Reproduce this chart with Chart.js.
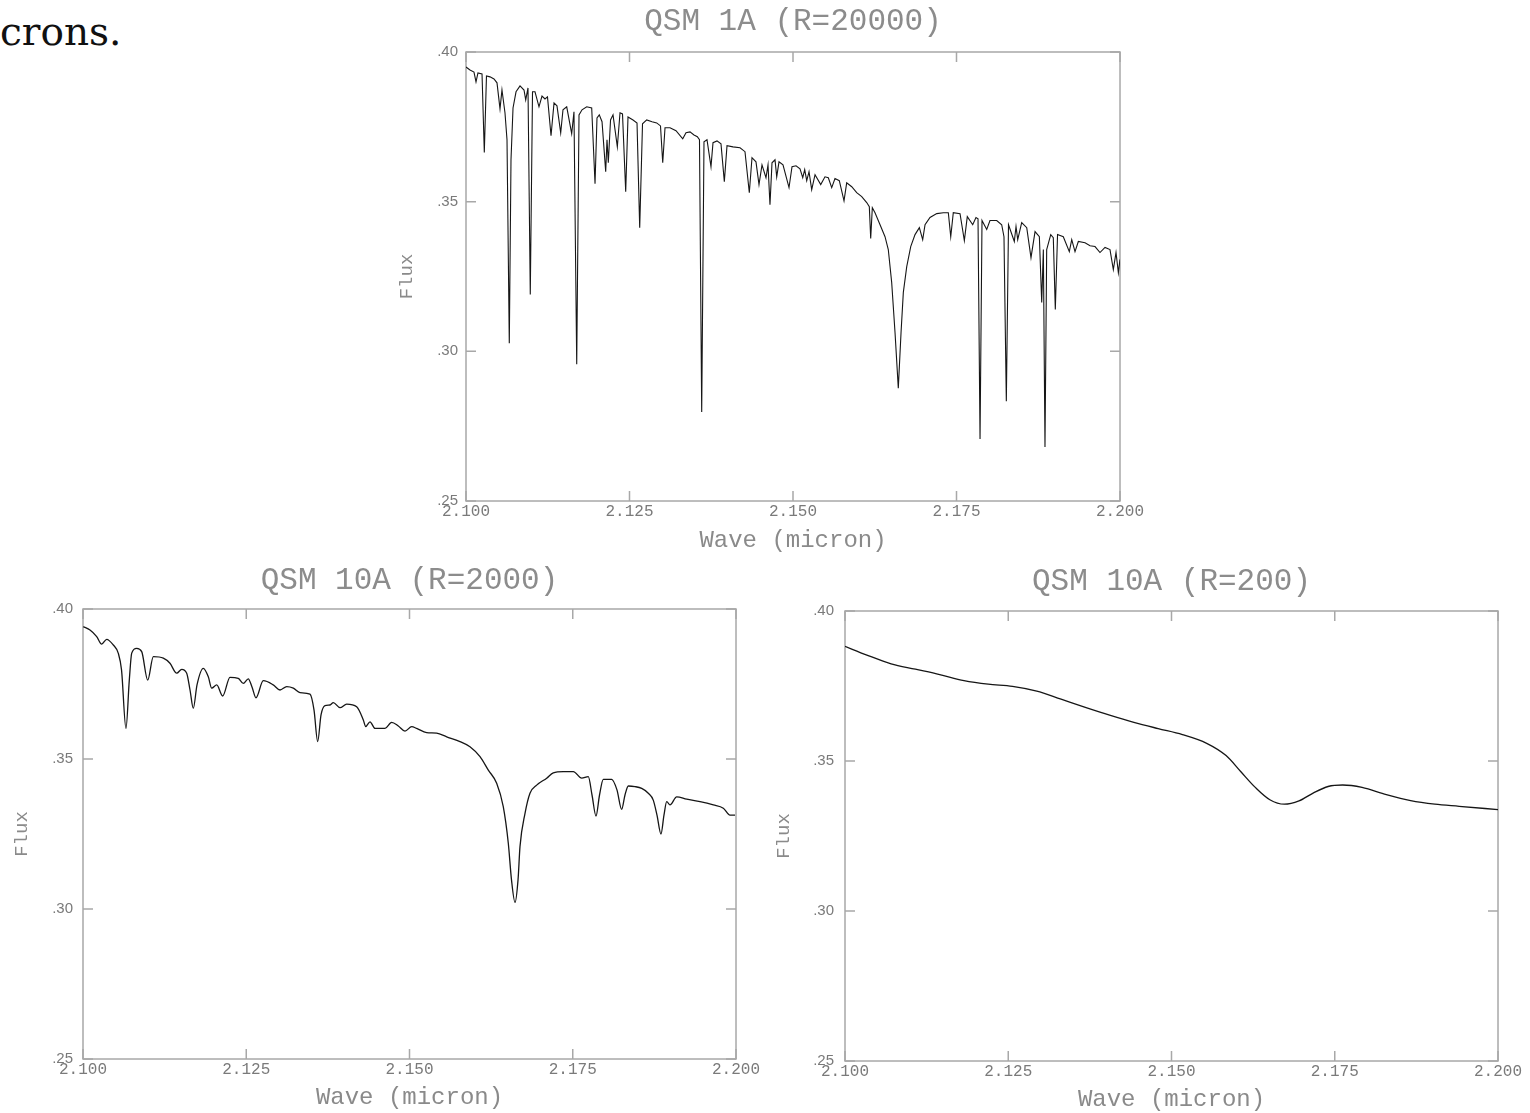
<!DOCTYPE html>
<html>
<head>
<meta charset="utf-8">
<title>QSM spectra</title>
<script src="https://cdn.jsdelivr.net/npm/chart.js@4"></script>
<style>
  html, body { margin: 0; padding: 0; background: #fff; }
  body { width: 1530px; height: 1113px; position: relative; overflow: hidden; }
  canvas { position: absolute; }
  #lead { position: absolute; left: 0; top: 12px; font-family: 'DejaVu Serif', serif; font-size: 39px; line-height: 39px; color: #111; }
</style>
</head>
<body>
<div id="lead">crons.</div>
<canvas id="hiChart" width="780" height="560" style="left:380px;top:0px"></canvas>
<canvas id="midChart" width="760" height="553" style="left:0px;top:560px"></canvas>
<canvas id="lowChart" width="770" height="553" style="left:760px;top:560px"></canvas>
<script>
// QSM 1A, R=20000
const waveHi = [
  2.10000, 2.10061, 2.10122, 2.10153, 2.10183, 2.10245, 2.10280, 2.10313, 2.10367, 2.10428,
  2.10474, 2.10520, 2.10550, 2.10596, 2.10627, 2.10662, 2.10688, 2.10719, 2.10765, 2.10826,
  2.10887, 2.10913, 2.10948, 2.10983, 2.11017, 2.11055, 2.11116, 2.11162, 2.11208, 2.11246,
  2.11300, 2.11346, 2.11391, 2.11448, 2.11483, 2.11540, 2.11616, 2.11651, 2.11693, 2.11728,
  2.11774, 2.11846, 2.11922, 2.11973, 2.12003, 2.12038, 2.12080, 2.12136, 2.12156, 2.12176,
  2.12210, 2.12248, 2.12314, 2.12355, 2.12393, 2.12442, 2.12477, 2.12554, 2.12615, 2.12656,
  2.12699, 2.12763, 2.12844, 2.12916, 2.12974, 2.13008, 2.13043, 2.13119, 2.13211, 2.13314,
  2.13364, 2.13425, 2.13486, 2.13537, 2.13570, 2.13604, 2.13639, 2.13685, 2.13746, 2.13777,
  2.13838, 2.13899, 2.13950, 2.13991, 2.14083, 2.14190, 2.14266, 2.14332, 2.14373, 2.14434,
  2.14480, 2.14526, 2.14587, 2.14618, 2.14648, 2.14679, 2.14725, 2.14751, 2.14786, 2.14847,
  2.14939, 2.14985, 2.15046, 2.15107, 2.15149, 2.15179, 2.15210, 2.15245, 2.15286, 2.15337,
  2.15424, 2.15489, 2.15540, 2.15592, 2.15642, 2.15708, 2.15780, 2.15821, 2.15898, 2.15974,
  2.16051, 2.16127, 2.16167, 2.16188, 2.16213, 2.16254, 2.16331, 2.16407, 2.16457, 2.16509,
  2.16560, 2.16610, 2.16652, 2.16687, 2.16739, 2.16800, 2.16866, 2.16932, 2.16983, 2.17019,
  2.17095, 2.17198, 2.17299, 2.17375, 2.17412, 2.17451, 2.17554, 2.17620, 2.17665, 2.17748,
  2.17798, 2.17829, 2.17860, 2.17890, 2.17962, 2.18012, 2.18115, 2.18191, 2.18226, 2.18262,
  2.18295, 2.18384, 2.18410, 2.18436, 2.18497, 2.18574, 2.18639, 2.18701, 2.18767, 2.18803,
  2.18828, 2.18853, 2.18879, 2.18941, 2.18980, 2.19011, 2.19045, 2.19133, 2.19225, 2.19262,
  2.19312, 2.19363, 2.19465, 2.19542, 2.19618, 2.19694, 2.19771, 2.19847, 2.19898, 2.19939,
  2.19975, 2.20000
];
const fluxHi = [
  0.3950, 0.3940, 0.3933, 0.3900, 0.3930, 0.3927, 0.3664, 0.3920, 0.3917, 0.3910,
  0.3897, 0.3810, 0.3873, 0.3797, 0.3707, 0.3027, 0.3640, 0.3813, 0.3867, 0.3887,
  0.3873, 0.3840, 0.3880, 0.3190, 0.3867, 0.3867, 0.3817, 0.3853, 0.3843, 0.3850,
  0.3720, 0.3830, 0.3820, 0.3730, 0.3807, 0.3817, 0.3727, 0.3800, 0.2957, 0.3790,
  0.3807, 0.3817, 0.3813, 0.3560, 0.3780, 0.3790, 0.3767, 0.3600, 0.3707, 0.3630,
  0.3773, 0.3790, 0.3683, 0.3797, 0.3793, 0.3533, 0.3783, 0.3773, 0.3763, 0.3413,
  0.3760, 0.3773, 0.3767, 0.3763, 0.3753, 0.3630, 0.3747, 0.3747, 0.3737, 0.3710,
  0.3730, 0.3733, 0.3723, 0.3717, 0.3707, 0.2797, 0.3700, 0.3707, 0.3617, 0.3697,
  0.3703, 0.3693, 0.3567, 0.3687, 0.3683, 0.3680, 0.3667, 0.3530, 0.3647, 0.3633,
  0.3557, 0.3623, 0.3580, 0.3623, 0.3490, 0.3630, 0.3640, 0.3583, 0.3633, 0.3623,
  0.3547, 0.3617, 0.3620, 0.3610, 0.3580, 0.3607, 0.3570, 0.3600, 0.3540, 0.3590,
  0.3557, 0.3583, 0.3580, 0.3547, 0.3577, 0.3570, 0.3503, 0.3563, 0.3550, 0.3530,
  0.3517, 0.3497, 0.3483, 0.3377, 0.3480, 0.3463, 0.3423, 0.3383, 0.3340, 0.3230,
  0.3063, 0.2877, 0.3063, 0.3197, 0.3283, 0.3350, 0.3390, 0.3413, 0.3373, 0.3423,
  0.3447, 0.3460, 0.3463, 0.3463, 0.3383, 0.3463, 0.3460, 0.3370, 0.3450, 0.3423,
  0.3447, 0.3443, 0.2707, 0.3437, 0.3407, 0.3437, 0.3437, 0.3423, 0.3383, 0.2833,
  0.3423, 0.3367, 0.3417, 0.3373, 0.3430, 0.3413, 0.3313, 0.3400, 0.3383, 0.3163,
  0.3340, 0.2680, 0.3340, 0.3390, 0.3380, 0.3140, 0.3390, 0.3383, 0.3333, 0.3373,
  0.3333, 0.3367, 0.3363, 0.3353, 0.3350, 0.3330, 0.3347, 0.3340, 0.3273, 0.3330,
  0.3263, 0.3307
];

// QSM 10A, R=2000
const waveMid = [
  2.10005, 2.10107, 2.10210, 2.10286, 2.10363, 2.10464, 2.10541, 2.10590, 2.10658, 2.10709,
  2.10746, 2.10822, 2.10899, 2.10991, 2.11077, 2.11230, 2.11332, 2.11435, 2.11512, 2.11588,
  2.11639, 2.11689, 2.11746, 2.11842, 2.11919, 2.11971, 2.12048, 2.12139, 2.12251, 2.12378,
  2.12455, 2.12531, 2.12588, 2.12649, 2.12761, 2.12914, 2.13017, 2.13119, 2.13221, 2.13323,
  2.13476, 2.13538, 2.13594, 2.13645, 2.13706, 2.13783, 2.13833, 2.13936, 2.14038, 2.14191,
  2.14293, 2.14329, 2.14395, 2.14472, 2.14625, 2.14727, 2.14829, 2.14931, 2.15034, 2.15110,
  2.15263, 2.15416, 2.15570, 2.15773, 2.15926, 2.16080, 2.16207, 2.16335, 2.16436, 2.16513,
  2.16562, 2.16616, 2.16662, 2.16692, 2.16769, 2.16845, 2.16948, 2.17101, 2.17202, 2.17355,
  2.17509, 2.17637, 2.17738, 2.17795, 2.17856, 2.17910, 2.17968, 2.18096, 2.18177, 2.18249,
  2.18300, 2.18351, 2.18453, 2.18556, 2.18657, 2.18733, 2.18790, 2.18851, 2.18897, 2.18939,
  2.18989, 2.19092, 2.19245, 2.19449, 2.19653, 2.19806, 2.19908, 2.19985
];
const fluxMid = [
  0.3941, 0.3930, 0.3908, 0.3883, 0.3899, 0.3880, 0.3852, 0.3797, 0.3602, 0.3763,
  0.3853, 0.3869, 0.3858, 0.3763, 0.3841, 0.3836, 0.3819, 0.3786, 0.3799, 0.3786,
  0.3730, 0.3669, 0.3747, 0.3802, 0.3774, 0.3736, 0.3747, 0.3710, 0.3772, 0.3769,
  0.3752, 0.3767, 0.3740, 0.3704, 0.3761, 0.3747, 0.3730, 0.3741, 0.3736, 0.3721,
  0.3716, 0.3663, 0.3558, 0.3647, 0.3678, 0.3680, 0.3688, 0.3671, 0.3683, 0.3674,
  0.3630, 0.3608, 0.3624, 0.3602, 0.3602, 0.3622, 0.3610, 0.3593, 0.3608, 0.3602,
  0.3588, 0.3586, 0.3574, 0.3558, 0.3541, 0.3508, 0.3463, 0.3419, 0.3341, 0.3219,
  0.3097, 0.3022, 0.3097, 0.3208, 0.3319, 0.3386, 0.3413, 0.3436, 0.3454, 0.3458,
  0.3458, 0.3436, 0.3441, 0.3380, 0.3310, 0.3380, 0.3432, 0.3432, 0.3397, 0.3332,
  0.3380, 0.3410, 0.3408, 0.3402, 0.3386, 0.3363, 0.3313, 0.3250, 0.3313, 0.3358,
  0.3347, 0.3374, 0.3366, 0.3358, 0.3347, 0.3336, 0.3313, 0.3313
];

// QSM 10A, R=200
const waveLow = [
  2.10000, 2.10335, 2.10706, 2.11078, 2.11450, 2.11822, 2.12193, 2.12565, 2.12937, 2.13309,
  2.13680, 2.14052, 2.14424, 2.14796, 2.15167, 2.15539, 2.15836, 2.16059, 2.16283, 2.16506,
  2.16729, 2.16952, 2.17175, 2.17398, 2.17621, 2.17918, 2.18290, 2.18662, 2.19033, 2.19405,
  2.20000
];
const fluxLow = [
  0.3882, 0.3853, 0.3824, 0.3806, 0.3788, 0.3768, 0.3756, 0.3749, 0.3733, 0.3706,
  0.3679, 0.3653, 0.3629, 0.3608, 0.3588, 0.3559, 0.3518, 0.3465, 0.3412, 0.3371,
  0.3356, 0.3367, 0.3394, 0.3415, 0.3420, 0.3412, 0.3388, 0.3368, 0.3356, 0.3349,
  0.3338
];

const xTicks = [2.100, 2.125, 2.150, 2.175, 2.200];
const xTickLabels = ['2.100', '2.125', '2.150', '2.175', '2.200'];
const yTicks = [0.25, 0.30, 0.35, 0.40];
const yTickLabels = ['.25', '.30', '.35', '.40'];

// box round the plot with inward tick marks on all four sides
const framePlugin = {
    id: 'frame',
    beforeDatasetsDraw(chart) {
        const {ctx, chartArea: a, scales: {x, y}} = chart;
        ctx.save();
        ctx.strokeStyle = '#a8a8a8';
        ctx.lineWidth = 1.5;
        ctx.strokeRect(a.left, a.top, a.right - a.left, a.bottom - a.top);
        ctx.beginPath();
        xTicks.forEach(v => {
            const px = x.getPixelForValue(v);
            ctx.moveTo(px, a.bottom); ctx.lineTo(px, a.bottom - 10);
            ctx.moveTo(px, a.top); ctx.lineTo(px, a.top + 10);
        });
        yTicks.forEach(v => {
            const py = y.getPixelForValue(v);
            ctx.moveTo(a.left, py); ctx.lineTo(a.left + 10, py);
            ctx.moveTo(a.right, py); ctx.lineTo(a.right - 10, py);
        });
        ctx.stroke();
        ctx.restore();
    }
};

function makeChart(id, title, wave, flux, g) {
    const points = wave.map((w, i) => ({x: w, y: flux[i]}));
    return new Chart(document.getElementById(id), {
        type: 'line',
        data: {
            datasets: [{
                data: points,
                borderColor: '#161616',
                borderWidth: g.lineWidth,
                pointRadius: 0,
                fill: false,
                tension: g.smooth ? 0.4 : 0,
                cubicInterpolationMode: g.smooth ? 'monotone' : 'default'
            }]
        },
        options: {
            responsive: false,
            animation: false,
            events: [],
            layout: { padding: { top: 0, left: 0, right: g.padRight, bottom: 0 } },
            plugins: {
                legend: { display: false },
                tooltip: { enabled: false },
                title: {
                    display: true,
                    text: title,
                    fullSize: false,
                    color: '#8c8c8c',
                    font: { family: 'Liberation Mono', size: 31, weight: 'normal', lineHeight: 1 },
                    padding: g.titlePad
                }
            },
            scales: {
                x: {
                    type: 'linear',
                    min: 2.1,
                    max: 2.2,
                    grid: { display: false, drawTicks: false },
                    border: { display: false },
                    afterBuildTicks: s => { s.ticks = xTicks.map(v => ({ value: v })); },
                    afterFit: s => { s.height = g.xHeight; s.paddingLeft = 0; s.paddingRight = 0; },
                    ticks: {
                        autoSkip: false,
                        maxRotation: 0,
                        padding: g.xTickPad,
                        color: '#7a7a7a',
                        font: { family: 'Liberation Mono', size: 16, lineHeight: 1 },
                        callback: (v, i) => xTickLabels[i]
                    },
                    title: {
                        display: true,
                        text: 'Wave (micron)',
                        color: '#8a8a8a',
                        font: { family: 'Liberation Mono', size: 24, lineHeight: 1 },
                        padding: { top: 0, bottom: g.xTitlePad }
                    }
                },
                y: {
                    min: 0.25,
                    max: 0.40,
                    grid: { display: false, drawTicks: false },
                    border: { display: false },
                    afterBuildTicks: s => { s.ticks = yTicks.map(v => ({ value: v })); },
                    afterFit: s => { s.width = g.yWidth; s.paddingTop = 0; s.paddingBottom = 0; },
                    ticks: {
                        padding: g.yTickPad,
                        color: '#7a7a7a',
                        font: { family: 'Liberation Sans', size: 15, lineHeight: 1 },
                        callback: (v, i) => yTickLabels[i]
                    },
                    title: {
                        display: true,
                        text: 'Flux',
                        color: '#8a8a8a',
                        font: { family: 'Liberation Mono', size: 19, lineHeight: 1 },
                        padding: { top: g.yTitlePad, bottom: 0 }
                    }
                }
            }
        },
        plugins: [framePlugin]
    });
}

makeChart('hiChart', 'QSM 1A (R=20000)', waveHi, fluxHi, {
    lineWidth: 1.1, smooth: false, padRight: 40, titlePad: { top: 6, bottom: 15 },
    yWidth: 86, xHeight: 59, yTickPad: 8, xTickPad: 3, xTitlePad: 7, yTitlePad: 17
});
makeChart('midChart', 'QSM 10A (R=2000)', waveMid, fluxMid, {
    lineWidth: 1.3, smooth: true, padRight: 24, titlePad: { top: 5, bottom: 13 },
    yWidth: 83, xHeight: 54, yTickPad: 10, xTickPad: 3, xTitlePad: 3, yTitlePad: 12
});
makeChart('lowChart', 'QSM 10A (R=200)', waveLow, fluxLow, {
    lineWidth: 1.3, smooth: true, padRight: 32, titlePad: { top: 6, bottom: 14 },
    yWidth: 85, xHeight: 52, yTickPad: 11, xTickPad: 3, xTitlePad: 1, yTitlePad: 14
});
</script>
</body>
</html>
